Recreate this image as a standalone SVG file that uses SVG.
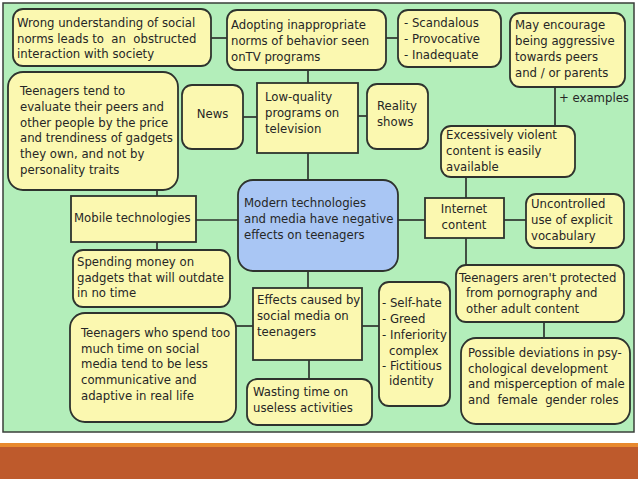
<svg xmlns="http://www.w3.org/2000/svg" width="638" height="479" viewBox="0 0 638 479">
<style>
.bx{fill:#FBF8B0;stroke:#2E332E;stroke-width:1.8}
.ctr{fill:#A9C6F4;stroke:#2E332E;stroke-width:1.8}
.t{font-family:"DejaVu Sans Condensed","DejaVu Sans",sans-serif;font-size:13px;fill:#262626}
.ln{stroke:#2E332E;stroke-width:1.7;fill:none}
</style>
<rect x="0" y="0" width="638" height="479" fill="#FFFFFF"/>
<rect x="3" y="3" width="631" height="429" fill="#B3EEBA" stroke="#3A3F3A" stroke-width="1.5"/>
<rect x="0" y="443" width="638" height="4" fill="#E8892E"/>
<rect x="0" y="447" width="638" height="32" fill="#BE5A2C"/>

<g id="connectors">
<path class="ln" d="M211 38H227"/>
<path class="ln" d="M386 38H398"/>
<path class="ln" d="M308 70V83"/>
<path class="ln" d="M243 117H257"/>
<path class="ln" d="M358 116H367"/>
<path class="ln" d="M308 153V180"/>
<path class="ln" d="M157 190V196"/>
<path class="ln" d="M157 242V250"/>
<path class="ln" d="M196 220H238"/>
<path class="ln" d="M398 220H425"/>
<path class="ln" d="M504 220H526"/>
<path class="ln" d="M555 87V126"/>
<path class="ln" d="M466 177V198"/>
<path class="ln" d="M466 238V265"/>
<path class="ln" d="M544 322V338"/>
<path class="ln" d="M308 271V288"/>
<path class="ln" d="M235 326H253"/>
<path class="ln" d="M362 326H379"/>
<path class="ln" d="M309 360V379"/>
</g>

<g id="n-wrong">
<rect class="bx" x="13" y="9" width="198" height="57" rx="10"/>
<text class="t" xml:space="preserve"><tspan x="17" y="27">Wrong understanding of social</tspan><tspan x="17" y="43">norms leads to  an  obstructed</tspan><tspan x="17" y="58">interaction with society</tspan></text>
</g>
<g id="n-adopting">
<rect class="bx" x="227" y="10" width="159" height="60" rx="10"/>
<text class="t"><tspan x="231" y="29">Adopting inappropriate</tspan><tspan x="231" y="45">norms of behavior seen</tspan><tspan x="231" y="61">onTV programs</tspan></text>
</g>
<g id="n-scandalous">
<rect class="bx" x="398" y="10" width="103" height="57" rx="10"/>
<text class="t"><tspan x="404" y="27">- Scandalous</tspan><tspan x="404" y="43">- Provocative</tspan><tspan x="404" y="59">- Inadequate</tspan></text>
</g>
<g id="n-aggressive">
<rect class="bx" x="510" y="13" width="115" height="74" rx="10"/>
<text class="t"><tspan x="515" y="29">May encourage</tspan><tspan x="515" y="45">being aggressive</tspan><tspan x="515" y="61">towards peers</tspan><tspan x="515" y="77">and / or parents</tspan></text>
</g>
<g id="l-examples">
<text class="t" x="559" y="102">+ examples</text>
</g>
<g id="n-evaluate">
<rect class="bx" x="8" y="72" width="170" height="118" rx="15"/>
<text class="t"><tspan x="20" y="95">Teenagers tend to</tspan><tspan x="20" y="111">evaluate their peers and</tspan><tspan x="20" y="127">other people by the price</tspan><tspan x="20" y="142">and trendiness of gadgets</tspan><tspan x="20" y="158">they own, and not by</tspan><tspan x="20" y="174">personality traits</tspan></text>
</g>
<g id="n-news">
<rect class="bx" x="182" y="85" width="61" height="64" rx="10"/>
<text class="t" x="212.5" y="118" text-anchor="middle">News</text>
</g>
<g id="n-lowquality">
<rect class="bx" x="257" y="83" width="101" height="70"/>
<text class="t"><tspan x="265" y="101">Low-quality</tspan><tspan x="265" y="117">programs on</tspan><tspan x="265" y="133">television</tspan></text>
</g>
<g id="n-reality">
<rect class="bx" x="367" y="84" width="61" height="65" rx="10"/>
<text class="t"><tspan x="377" y="110">Reality</tspan><tspan x="377" y="126">shows</tspan></text>
</g>
<g id="n-violent">
<rect class="bx" x="441" y="126" width="134" height="51" rx="10"/>
<text class="t"><tspan x="446" y="139">Excessively violent</tspan><tspan x="446" y="155">content is easily</tspan><tspan x="446" y="171">available</tspan></text>
</g>
<g id="n-mobile">
<rect class="bx" x="71" y="196" width="125" height="46"/>
<text class="t" x="74" y="222">Mobile technologies</text>
</g>
<g id="n-central">
<rect class="ctr" x="238" y="180" width="160" height="91" rx="15"/>
<text class="t"><tspan x="244" y="207">Modern technologies</tspan><tspan x="244" y="223">and media have negative</tspan><tspan x="244" y="239">effects on teenagers</tspan></text>
</g>
<g id="n-internet">
<rect class="bx" x="425" y="198" width="79" height="40"/>
<text class="t" text-anchor="middle"><tspan x="464" y="213">Internet</tspan><tspan x="464" y="229">content</tspan></text>
</g>
<g id="n-uncontrolled">
<rect class="bx" x="526" y="194" width="98" height="54" rx="10"/>
<text class="t"><tspan x="531" y="208">Uncontrolled</tspan><tspan x="531" y="224">use of explicit</tspan><tspan x="531" y="240">vocabulary</tspan></text>
</g>
<g id="n-spending">
<rect class="bx" x="73" y="250" width="157" height="57" rx="10"/>
<text class="t"><tspan x="77" y="266">Spending money on</tspan><tspan x="77" y="282">gadgets that will outdate</tspan><tspan x="77" y="297">in no time</tspan></text>
</g>
<g id="n-protected">
<rect class="bx" x="456" y="265" width="168" height="57" rx="10"/>
<text class="t"><tspan x="459" y="282">Teenagers aren't protected</tspan><tspan x="466" y="297">from pornography and</tspan><tspan x="466" y="313">other adult content</tspan></text>
</g>
<g id="n-effects">
<rect class="bx" x="253" y="288" width="109" height="72"/>
<text class="t"><tspan x="257" y="304">Effects caused by</tspan><tspan x="257" y="320">social media on</tspan><tspan x="257" y="336">teenagers</tspan></text>
</g>
<g id="n-selfhate">
<rect class="bx" x="379" y="282" width="71" height="124" rx="10"/>
<text class="t"><tspan x="382" y="307">- Self-hate</tspan><tspan x="382" y="323">- Greed</tspan><tspan x="382" y="339">- Inferiority</tspan><tspan x="389" y="355">complex</tspan><tspan x="382" y="370">- Fictitious</tspan><tspan x="389" y="385">identity</tspan></text>
</g>
<g id="n-spendtoo">
<rect class="bx" x="70" y="313" width="166" height="109" rx="15"/>
<text class="t"><tspan x="81" y="337">Teenagers who spend too</tspan><tspan x="81" y="353">much time on social</tspan><tspan x="81" y="368">media tend to be less</tspan><tspan x="81" y="384">communicative and</tspan><tspan x="81" y="400">adaptive in real life</tspan></text>
</g>
<g id="n-wasting">
<rect class="bx" x="247" y="379" width="125" height="46" rx="10"/>
<text class="t"><tspan x="253" y="396">Wasting time on</tspan><tspan x="253" y="412">useless activities</tspan></text>
</g>
<g id="n-deviations">
<rect class="bx" x="461" y="338" width="169" height="86" rx="15"/>
<text class="t" xml:space="preserve"><tspan x="468" y="357">Possible deviations in psy-</tspan><tspan x="468" y="373">chological development</tspan><tspan x="468" y="388">and misperception of male</tspan><tspan x="468" y="404">and  female  gender roles</tspan></text>
</g>
</svg>
